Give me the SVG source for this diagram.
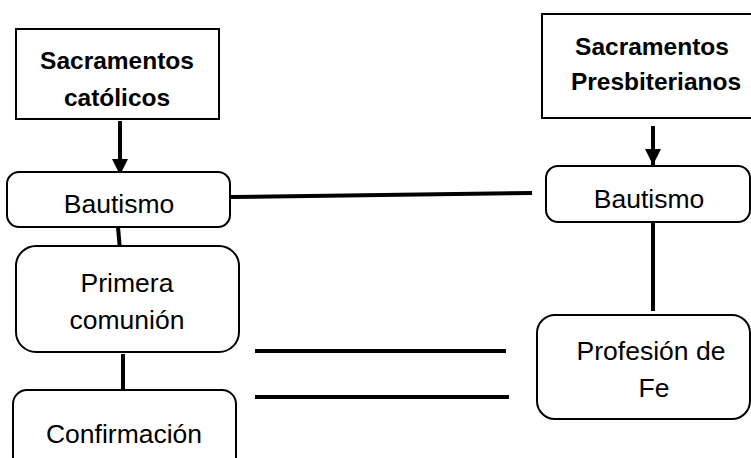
<svg xmlns="http://www.w3.org/2000/svg" width="751" height="458" viewBox="0 0 751 458">
<style>
.box{fill:#fff;stroke:#000;stroke-width:2}
.t{font-family:"Liberation Sans",Arial,sans-serif;font-size:26.5px;fill:#000;text-anchor:middle}
.b{font-weight:bold;font-size:24.5px}
.c{stroke:#000;stroke-width:4;fill:none}
</style>
<defs>
<marker id="ah" viewBox="0 0 10 10" refX="10" refY="5" markerWidth="4" markerHeight="4.2" orient="auto" markerUnits="strokeWidth">
<path d="M0,0 L10,5 L0,10 Z" fill="#000"/>
</marker>
</defs>
<g id="connectors">
<line class="c" x1="120" y1="121" x2="120" y2="175" marker-end="url(#ah)"/>
<line class="c" x1="653" y1="126" x2="653" y2="165" marker-end="url(#ah)"/>
<line class="c" x1="230" y1="197" x2="532" y2="193"/>
<line class="c" x1="118" y1="227" x2="120" y2="250"/>
<line class="c" x1="123" y1="354" x2="123" y2="399"/>
<line class="c" x1="653" y1="222" x2="653" y2="311"/>
<line class="c" x1="255" y1="351" x2="506" y2="351"/>
<line class="c" x1="255" y1="397" x2="509" y2="397"/>
</g>
<g id="n-catolicos">
<rect class="box" x="16" y="29" width="203" height="90"/>
<text class="t b" x="117" y="69">Sacramentos</text>
<text class="t b" x="117" y="106">católicos</text>
</g>
<g id="n-presbiterianos">
<rect class="box" x="542" y="14" width="212" height="104"/>
<text class="t b" x="652" y="55">Sacramentos</text>
<text class="t b" x="656" y="90">Presbiterianos</text>
</g>
<g id="n-bautismo-c">
<rect class="box" x="7" y="172" width="223" height="55" rx="12"/>
<text class="t" x="119" y="213">Bautismo</text>
</g>
<g id="n-primera">
<rect class="box" x="16" y="246" width="223" height="106" rx="20"/>
<text class="t" x="127" y="292">Primera</text>
<text class="t" x="127" y="329">comunión</text>
</g>
<g id="n-confirmacion">
<rect class="box" x="13" y="390" width="223" height="85" rx="14"/>
<text class="t" x="124" y="443">Confirmación</text>
</g>
<g id="n-bautismo-p">
<rect class="box" x="546" y="166" width="204" height="56" rx="12"/>
<text class="t" x="649" y="208">Bautismo</text>
</g>
<g id="n-profesion">
<rect class="box" x="537" y="315" width="213" height="104" rx="18"/>
<text class="t" x="651" y="360">Profesión de</text>
<text class="t" x="654" y="397">Fe</text>
</g>
</svg>
